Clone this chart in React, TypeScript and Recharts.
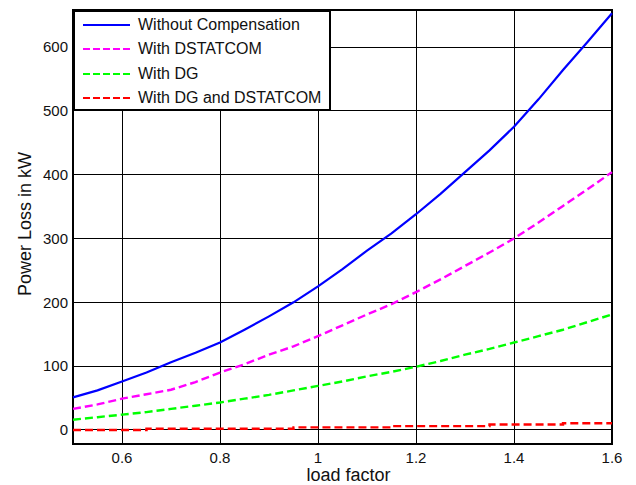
import React from "react"
import {
  CartesianGrid,
  Legend,
  Line,
  LineChart,
  ReferenceArea,
  XAxis,
  YAxis,
} from "recharts"

const loadFactor = [
  0.5, 0.55, 0.6, 0.65, 0.7, 0.75, 0.8, 0.85, 0.9, 0.95, 1.0, 1.05, 1.1, 1.15, 1.2,
  1.25, 1.3, 1.35, 1.4, 1.45, 1.5, 1.55, 1.6,
]
const withoutCompensation = [
  51, 62, 76, 90, 106, 121, 137, 157, 178, 200, 225, 252, 281, 308, 338, 370, 404,
  438, 475, 518, 564, 608, 653,
]
const withDstatcom = [
  33, 40, 49, 56, 63, 75, 90, 103, 118, 131, 147, 164, 181, 197, 216, 236, 257, 278,
  300, 325, 351, 377, 404,
]
const withDg = [
  16, 20, 24, 28, 33, 38, 43, 49, 55, 62, 69, 76, 84, 91, 99, 108, 118, 127, 137,
  147, 157, 169, 181,
]
const withDgAndDstatcom = [
  0, 0, 0, 2, 2, 2, 2, 2, 2, 4, 4, 4, 4, 6, 6, 6, 6, 8.5, 8.5, 8.5, 10.5, 10.5, 10.5,
]

const xTicks = [0.6, 0.8, 1, 1.2, 1.4, 1.6]
const yTicks = [0, 100, 200, 300, 400, 500, 600]

const series = [
  { key: "wc", name: "Without Compensation", color: "#0000ff", dash: undefined },
  { key: "wd", name: "With DSTATCOM", color: "#ff00ff", dash: "8 4" },
  { key: "dg", name: "With DG", color: "#00ff00", dash: "8 4" },
  { key: "dd", name: "With DG and DSTATCOM", color: "#ff0000", dash: "8 4" },
]

const data = loadFactor.map((lf, i) => ({
  lf,
  wc: withoutCompensation[i],
  wd: withDstatcom[i],
  dg: withDg[i],
  dd: withDgAndDstatcom[i],
}))

const font = "'Liberation Sans', Arial, Helvetica, sans-serif"

function LegendBox() {
  return (
    <div
      style={{
        boxSizing: "border-box",
        width: 258,
        height: 101,
        background: "#fff",
        border: "2px solid #000",
        paddingTop: 1,
        fontFamily: font,
        fontSize: 16,
        color: "#111",
      }}
    >
      {series.map((s) => (
        <div key={s.key} style={{ display: "flex", alignItems: "center", height: 24.3 }}>
          <svg width={47} height={6} style={{ marginLeft: 8, marginRight: 8 }}>
            <line
              x1={0}
              y1={3}
              x2={47}
              y2={3}
              stroke={s.color}
              strokeWidth={2.2}
              strokeDasharray={s.dash ? "7 3" : undefined}
            />
          </svg>
          <span style={{ whiteSpace: "nowrap" }}>{s.name}</span>
        </div>
      ))}
    </div>
  )
}

export default function App() {
  return (
    <div style={{ position: "absolute", left: 0, top: 0, background: "#fff" }}>
      <LineChart
        width={636}
        height={485}
        data={data}
        margin={{ top: 10, right: 24, left: 0, bottom: 0 }}
      >
        <CartesianGrid stroke="#000" strokeWidth={1} shapeRendering="crispEdges" />
        <XAxis
          dataKey="lf"
          type="number"
          domain={[0.5, 1.6]}
          ticks={xTicks}
          height={41}
          axisLine={false}
          tickLine={false}
          tickSize={0}
          tickMargin={8}
          tick={{ fill: "#111", fontSize: 15, fontFamily: font }}
          label={{
            content: ({ viewBox }: any) => (
              <text
                x={viewBox.x + viewBox.width / 2 + 6}
                y={viewBox.y + 37}
                textAnchor="middle"
                fill="#111"
                fontSize={18}
                fontFamily={font}
              >
                load factor
              </text>
            ),
          }}
        />
        <YAxis
          type="number"
          domain={[-22, 658]}
          allowDataOverflow
          ticks={yTicks}
          width={73}
          axisLine={false}
          tickLine={false}
          tickSize={0}
          tickMargin={5}
          tick={{ fill: "#111", fontSize: 15, fontFamily: font }}
          label={{
            content: ({ viewBox }: any) => {
              const cx = 25
              const cy = viewBox.y + viewBox.height / 2 - 3
              return (
                <text
                  x={cx}
                  y={cy}
                  transform={`rotate(-90 ${cx} ${cy})`}
                  textAnchor="middle"
                  dominantBaseline="central"
                  fill="#111"
                  fontSize={18}
                  fontFamily={font}
                >
                  Power Loss in kW
                </text>
              )
            },
          }}
        />
        <ReferenceArea
          x1={0.5}
          x2={1.6}
          y1={-22}
          y2={658}
          fill="none"
          stroke="#000"
          strokeWidth={2}
          ifOverflow="visible"
        />
        {series.map((s) => (
          <Line
            key={s.key}
            dataKey={s.key}
            name={s.name}
            type={s.key === "dd" ? "stepAfter" : "linear"}
            stroke={s.color}
            strokeWidth={s.dash ? 2.4 : 2.2}
            strokeDasharray={s.dash}
            dot={false}
            activeDot={false}
            isAnimationActive={false}
          />
        ))}
        <Legend
          layout="vertical"
          align="center"
          verticalAlign="middle"
          content={() => <LegendBox />}
          wrapperStyle={{ left: 73, top: 10, width: 258, height: 101 }}
        />
      </LineChart>
    </div>
  )
}
